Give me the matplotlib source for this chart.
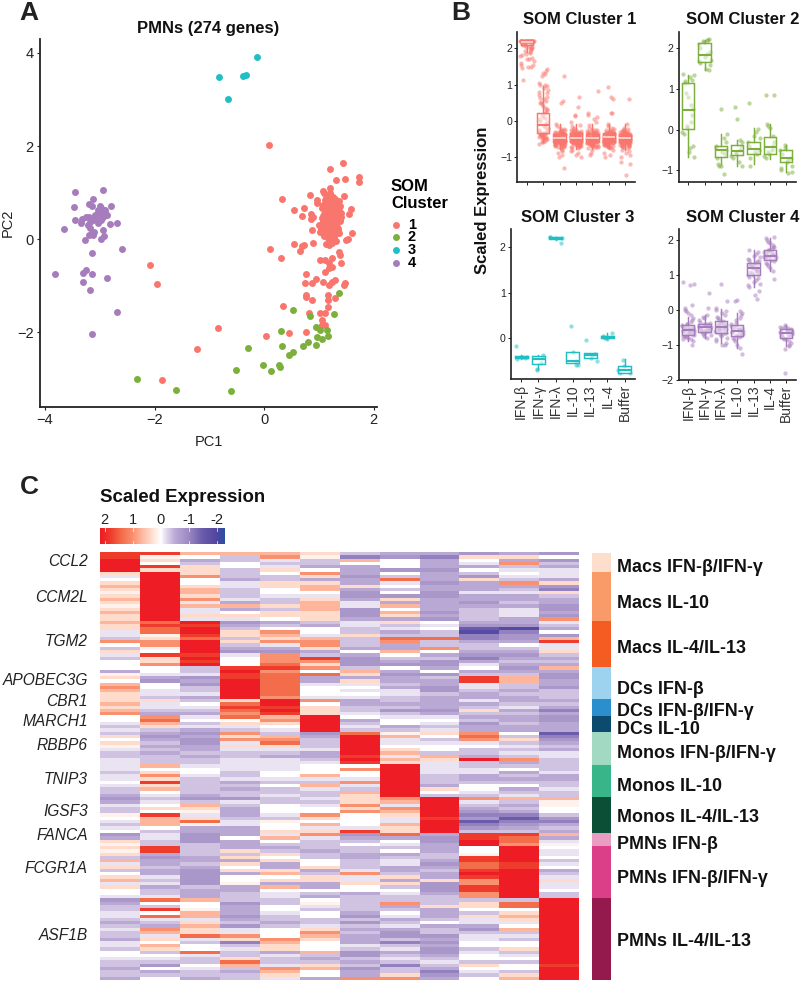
import numpy as np
import matplotlib
matplotlib.use("Agg")
import matplotlib.pyplot as plt
from matplotlib.colors import LinearSegmentedColormap, Normalize

plt.rcParams['font.family'] = ['Liberation Sans', 'DejaVu Sans']

W, H = 800, 982
RED, GREEN, TEAL, PURPLE = '#F8766D', '#7CAF3C', '#21BFC4', '#A67CBC'
INK = '#222222'

# ---------- Panel A data (PC1, PC2) ----------
C1_X = [0.08,1.44,1.20,1.32,1.47,1.73,1.74,0.84,0.33,0.97,0.96,1.07,1.21,1.45,0.72,0.54,0.69,0.86,0.85,1.58,1.54,1.41,1.39,0.90,
        0.87,1.61,1.49,1.53,1.36,0.55,0.72,0.70,0.90,0.66,1.13,1.18,1.24,1.31,1.21,0.10,0.30,1.36,1.39,1.40,1.02,1.11,1.24,1.18,1.24,1.18,1.11,
        0.77,0.94,0.87,0.74,1.08,1.18,1.24,1.29,1.48,1.45,0.77,0.76,0.87,1.17,1.16,1.29,0.34,1.17,0.82,1.02,1.12,1.05,1.05,1.11,0.76,0.46,0.04,-0.84,
        -2.08,-1.95,-1.22,-1.87,
        1.10,1.15,1.20,1.25,1.30,1.12,1.18,1.24,1.30,1.36,1.08,1.14,1.20,1.26,1.32,1.38,1.06,1.12,1.18,1.24,1.30,1.36,1.10,1.16,1.22,1.28,1.34,1.40,
        1.05,1.11,1.17,1.23,1.29,1.35,1.08,1.14,1.20,1.26,1.32,1.38,1.00,1.06,1.12,1.18,1.24,1.30,1.04,1.10,1.16,1.22,1.28,1.34,1.02,1.08,1.14,1.20,1.26,1.32,1.10,1.16,1.22,1.28,1.30,1.18,
        1.13,1.19,1.27,1.33,1.09,1.15,1.21,1.29,1.35,1.07,1.17,1.23,1.31,1.37,1.05,1.13,1.25,1.33,1.11,1.19,1.27,1.35]
C1_Y = [2.03,1.63,1.51,1.28,1.29,1.33,1.23,0.95,0.87,0.84,0.78,1.03,1.09,0.92,0.66,0.62,0.49,0.54,0.44,0.64,0.54,0.55,0.44,0.48,
        0.20,0.12,-0.02,0.00,0.12,-0.10,-0.12,-0.14,-0.08,-0.26,-0.11,-0.12,-0.09,-0.05,0.04,-0.22,-0.41,-0.27,-0.34,-0.51,-0.46,-0.46,-0.41,-0.52,-0.60,-0.62,-0.71,
        -0.75,-0.85,-0.95,-0.95,-0.92,-0.98,-0.93,-0.89,-0.95,-0.99,-1.20,-1.25,-1.31,-1.20,-1.31,-1.26,-1.44,-1.46,-1.59,-1.58,-1.58,-1.75,-1.84,-1.85,-1.99,-2.01,-2.09,-1.91,
        -0.56,-0.97,-2.37,-3.02,
        0.98,0.92,0.99,0.90,0.86,0.84,0.80,0.85,0.78,0.82,0.74,0.70,0.72,0.76,0.69,0.72,0.66,0.60,0.64,0.62,0.58,0.60,0.54,0.52,0.56,0.50,0.54,0.48,
        0.46,0.42,0.48,0.44,0.40,0.46,0.38,0.34,0.40,0.36,0.32,0.38,0.30,0.26,0.32,0.28,0.24,0.30,0.22,0.18,0.24,0.20,0.16,0.22,0.16,0.12,0.14,0.10,0.14,0.18,0.06,0.02,0.08,0.04,0.10,-0.02,
        0.88,0.82,0.76,0.80,0.67,0.69,0.58,0.62,0.57,0.50,0.44,0.37,0.43,0.50,0.28,0.35,0.29,0.26,0.13,0.10,0.20,0.22]
C2_X = [1.37,0.52,0.83,1.28,0.94,1.02,1.15,0.97,1.05,1.16,0.80,0.71,0.94,0.32,-0.29,0.52,0.46,-0.02,0.28,0.29,-0.51,0.12,-2.32,-1.61,-0.60,0.30]
C2_Y = [-1.16,-1.53,-1.65,-1.61,-1.89,-1.96,-1.96,-2.10,-2.14,-2.09,-2.21,-2.29,-2.27,-2.30,-2.34,-2.42,-2.50,-2.70,-2.70,-2.75,-2.81,-2.83,-3.00,-3.24,-3.27,-1.98]
C3_X = [-0.82,-0.38,-0.33,-0.13,-0.66]
C3_Y = [3.48,3.50,3.53,3.91,3.01]
C4_X = [-3.46,-2.94,-3.12,-3.47,-3.20,-3.15,-2.79,-3.00,-2.97,-3.03,-3.45,-3.34,-3.33,-3.25,-3.19,-3.18,-3.12,-3.06,-2.97,-2.90,-2.86,-2.94,-3.00,-2.69,-2.81,-3.65,-3.17,-3.10,-2.94,-3.19,-3.12,-2.92,-3.27,-2.98,-2.60,
        -3.15,-3.25,-3.31,-3.15,-3.81,-2.86,-3.31,-3.18,-2.68,-3.15,-3.08,-3.22,-3.03,-2.90,-3.14]
C4_Y = [1.01,1.05,0.87,0.68,0.75,0.70,0.70,0.70,0.66,0.62,0.40,0.34,0.44,0.48,0.48,0.37,0.41,0.48,0.41,0.55,0.52,0.48,0.55,0.34,0.32,0.21,0.23,0.16,0.20,0.09,0.09,0.06,-0.02,0.01,-0.22,
        -0.31,-0.67,-0.72,-0.76,-0.76,-0.84,-0.93,-1.10,-1.57,-2.05,0.52,0.30,0.34,0.62,0.14]

# ---------- Panel B data ----------
CATS = ['IFN-\u03b2','IFN-\u03b3','IFN-\u03bb','IL-10','IL-13','IL-4','Buffer']
JITTER = [-0.31,0.12,-0.05,0.28,-0.19,0.34,0.03,-0.36,0.2,-0.12,0.08,0.37,-0.26,0.15,-0.02,0.24,-0.33,0.3,-0.09,0.17,-0.23]

BAND_A = [-0.20,-0.26,-0.30,-0.33,-0.35,-0.38,-0.40,-0.42,-0.44,-0.45,-0.47,-0.48,-0.50,-0.50,-0.52,-0.53,-0.55,-0.56,-0.58,-0.60,-0.61,-0.63,-0.65,-0.67,-0.70,-0.73,-0.76,-0.34,-0.41,-0.46,-0.49,-0.54,-0.57,-0.62,-0.28,-0.37,-0.43,-0.51,-0.59,-0.66]
BAND_B = [-0.24,-0.29,-0.32,-0.36,-0.39,-0.43,-0.46,-0.48,-0.51,-0.54,-0.56,-0.59,-0.62,-0.64,-0.68,-0.71,-0.74,-0.31,-0.35,-0.40,-0.44,-0.47,-0.50,-0.53,-0.57,-0.60,-0.64,-0.69,-0.33,-0.38,-0.42,-0.45,-0.49,-0.52,-0.55,-0.58,-0.63,-0.27,-0.72,-0.41,-0.47,-0.53,-0.37,-0.61,-0.44,-0.56,-0.50,-0.65]
S1 = [
 [2.22]*22+[2.18,2.2,2.15,2.12,2.1,2.1,2.05,2.0,2.02,1.95,1.9,1.92,1.85,1.8,1.82,1.75,1.7,1.72,1.65,1.6,1.55,1.55,1.5,1.5,1.45,1.12,2.17,2.14,2.08,2.04,1.98,1.88],
 [1.42,1.38,1.3,1.25,1.32,1.05,1.0,0.95,0.98,0.9,0.85,0.8,0.7,0.65,0.6,0.55,0.5,0.52,0.45,0.4,0.35,0.3,0.25,0.2,0.15,0.1,0.05,0.0,-0.05,-0.1,-0.15,-0.2,-0.25,-0.28,-0.3,-0.33,-0.35,-0.38,-0.4,-0.42,-0.45,-0.48,-0.5,-0.52,-0.55,-0.58,-0.6,-0.65,0.62,0.78,-0.18,-0.36,-0.22,-0.44,-0.31,-0.27,-0.41,-0.46,-0.39,-0.34,-0.49,-0.53,0.08,0.32],
 BAND_A+BAND_B+[1.25,0.5,0.55,-0.1,-0.15,-0.9,-1.0,-0.95,-1.32,-0.85,-0.8],
 BAND_A+BAND_B+[0.65,0.38,0.12,0.15,-0.05,-0.15,-0.12,-0.9,-0.95,-1.0,-0.85,-0.8],
 BAND_A+BAND_B+[0.82,0.22,0.15,0.1,0.05,-0.05,-0.12,-0.95,-0.9,-0.82],
 BAND_A+BAND_B+[0.92,0.65,0.6,0.2,0.2,-0.1,-0.15,-0.9,-1.0,-0.8,-0.95],
 BAND_A+BAND_B+[0.6,-0.1,-1.5,-1.2,-1.15,-1.0,-0.95,-0.9,-0.85,-0.8],
]
S2 = [
 [1.38,1.35,1.3,1.22,1.2,1.15,0.9,0.8,0.6,0.5,0.35,0.2,0.1,0.05,-0.05,-0.1,-0.4,-0.45,-0.55,-0.68],
 [2.22,2.2,2.2,2.18,2.15,2.1,2.0,1.9,1.85,1.8,1.72,1.7,1.65,1.6,1.5,1.47],
 [0.5,-0.1,-0.4,-0.45,-0.5,-0.55,-0.6,-0.7,-0.85,-0.9,-0.9,-1.1,-0.3,-0.2],
 [0.55,0.27,-0.25,-0.3,-0.4,-0.5,-0.55,-0.6,-0.65,-0.7,-0.9,-0.8],
 [0.65,0.03,-0.05,-0.15,-0.2,-0.3,-0.4,-0.5,-0.55,-0.6,-0.7,-0.88],
 [0.85,0.85,0.15,0.1,0.05,-0.15,-0.3,-0.4,-0.5,-0.55,-0.6,-0.65,-0.7],
 [-0.38,-0.45,-0.5,-0.6,-0.7,-0.75,-0.8,-0.9,-0.95,-1.0,-1.05,-1.07],
]
S3 = [
 [-0.17,-0.42,-0.42,-0.44,-0.46],
 [-0.38,-0.45,-0.55,-0.68,-0.7],
 [2.2,2.2,2.21,2.22,2.08],
 [0.26,-0.3,-0.5,-0.6,-0.6],
 [-0.05,-0.35,-0.38,-0.43,-0.5],
 [0.12,0.05,0.03,0.0,-0.02],
 [-0.48,-0.62,-0.7,-0.76,-0.77],
]
S4 = [
 [0.8,0.75,0.72,0.15,0.05,0.0,-0.05,-0.1,-0.15,-0.25,-0.3,-0.35,-0.4,-0.42,-0.45,-0.48,-0.5,-0.52,-0.55,-0.57,-0.6,-0.62,-0.65,-0.67,-0.7,-0.72,-0.75,-0.78,-0.8,-0.85,-0.9,-1.0,-0.58,-0.63,-0.53,-0.46,-0.51,-0.56,-0.61,-0.66,-0.71,-0.74,-0.83],
 [0.47,0.05,-0.15,-0.2,-0.25,-0.3,-0.35,-0.38,-0.42,-0.45,-0.48,-0.5,-0.52,-0.55,-0.58,-0.6,-0.62,-0.65,-0.7,-0.75,-0.8,-0.44,-0.47,-0.53,-0.57,-0.4,-0.46,-0.51,-0.56,-0.61,-0.66,-0.72],
 [0.75,0.25,0.05,0.0,-0.05,-0.1,-0.15,-0.2,-0.25,-0.3,-0.35,-0.4,-0.45,-0.5,-0.52,-0.55,-0.58,-0.6,-0.63,-0.66,-0.7,-0.75,-0.8,-0.85,-0.9,-0.95,-1.0,-1.02,-0.48,-0.42,-0.56,-0.38,-0.46,-0.54,-0.62,-0.33,-0.44,-0.68],
 [0.25,0.28,-0.05,-0.1,-0.15,-0.25,-0.3,-0.38,-0.42,-0.48,-0.52,-0.55,-0.58,-0.6,-0.63,-0.65,-0.68,-0.7,-0.75,-0.8,-0.85,-0.9,-1.0,-1.1,-1.27,-0.62,-0.56,-0.5,-0.72,-0.46,-0.59,-0.66,-0.78],
 [1.7,1.65,1.6,1.55,1.5,1.45,1.42,1.38,1.35,1.3,1.28,1.25,1.22,1.2,1.18,1.15,1.12,1.1,1.05,1.0,0.98,0.95,0.9,0.85,0.8,0.75,0.7,0.65,0.55,0.42,0.3,1.33,1.08,1.22,1.27,1.17,1.03,1.4],
 [2.08,2.05,2.0,1.95,1.9,1.85,1.8,1.78,1.75,1.7,1.68,1.65,1.62,1.6,1.58,1.55,1.52,1.5,1.48,1.45,1.42,1.4,1.35,1.3,1.25,1.2,1.1,0.88,1.56,1.63,1.47,1.72,1.53,1.6],
 [-0.45,-0.48,-0.5,-0.52,-0.55,-0.58,-0.6,-0.62,-0.65,-0.67,-0.7,-0.72,-0.75,-0.78,-0.8,-0.83,-0.85,-0.9,-0.95,-1.0,-1.05,-1.12,-1.8,-0.63,-0.68,-0.57,-0.53,-0.6,-0.66,-0.74],
]
# box stats: lower whisker, q1, median, q3, upper whisker
BOX1 = [[1.9,2.1,2.18,2.24,2.24],[-0.6,-0.33,-0.13,0.22,0.95],[-0.78,-0.6,-0.48,-0.36,-0.1],[-0.78,-0.6,-0.47,-0.35,-0.1],[-0.78,-0.6,-0.47,-0.36,-0.1],[-0.78,-0.58,-0.46,-0.33,-0.1],[-0.8,-0.6,-0.49,-0.37,-0.1]]
BOX2 = [[-0.68,0.03,0.49,1.14,1.35],[1.47,1.66,1.84,2.14,2.2],[-0.85,-0.67,-0.5,-0.4,-0.1],[-0.9,-0.63,-0.53,-0.37,-0.25],[-0.85,-0.6,-0.47,-0.3,0.05],[-0.72,-0.6,-0.42,-0.17,0.15],[-1.05,-0.8,-0.7,-0.5,-0.38]]
BOX3 = [[-0.46,-0.44,-0.42,-0.4,-0.38],[-0.68,-0.58,-0.47,-0.4,-0.38],[2.16,2.17,2.2,2.22,2.23],[-0.55,-0.55,-0.5,-0.3,-0.3],[-0.44,-0.43,-0.38,-0.34,-0.33],[-0.02,0.0,0.03,0.05,0.12],[-0.78,-0.77,-0.7,-0.62,-0.47]]
BOX4 = [[-0.9,-0.73,-0.57,-0.44,-0.2],[-0.82,-0.65,-0.5,-0.4,-0.15],[-0.95,-0.66,-0.5,-0.33,0.03],[-1.08,-0.74,-0.6,-0.45,-0.08],[0.65,0.98,1.2,1.35,1.7],[1.1,1.42,1.55,1.7,2.05],[-1.05,-0.82,-0.67,-0.55,-0.45]]

# ---------- Panel C data ----------
# one string per block of rows, per condition column; letters are expression levels
LEVELS = dict(R=2.17,S=1.8,T=1.4,o=1.0,p=0.7,q=0.35,r=0.12,w=0.0,a=-0.15,b=-0.35,c=-0.55,d=-0.8,e=-1.1,f=-1.5,g=-1.9)
BLOCKS = [6,15,14,10,5,5,10,10,11,4,16,25]
COL_0 = "SSRRRR qawqpqrqpqrqpqq pqqaabowbqabww wcrqwpopqq qpqpo wwaba bqwqrabbaa aabaawabbc dcabbrwabaw dcqr qrqbpaqbwqpaqwwa dcbbaabcbabbcaabwwabbcbbc".split()
COL_1 = "SrqwSq RRRRRRRRRRRRRRR TSTTrqoorwSqqo wwacdwwaab qaabc oTpqb cdcbcbcbbb pwqoqSqpwa bawqwSpppwb aabb SScdccbccabacbba TwbSwTabcopaqwpqbwabdwcbw".split()
COL_2 = "pwcbqq qowwqppqoapaaqa RSRRSTRRRRSRSR bbadcdbbac bwabc awbac dcddccbcbb awwabbbbbc dbpqraqTrcc dddb bbbccbcdddddbccc pwwrppaqpqqTabwwTabbwabbc".split()
COL_3 = "pbbwwb bbcaabbbacpcwqa dcbqqbqbcdawww SRSSRRRRRR qTSTo Twqab oqoaqabbaa aabbacbcbb dabcccbaacc cwcc cqbqcqwqcwwrccbb bdcccdcbdaaoqebabbqTpbcbb".split()
COL_4 = "poabaq wbbqqwwabbqbqqw cbwopqoacdoooT SoTTTTTTTo RRSRS poqwa bpoTqabcaa aawwabwbba bbwwwabrwwq apwb cbqwqccqpwqcpwaa bbwwabbcbwwwopqqcabbaopqa".split()
COL_5 = "qrbbcw oqcqppwaqpppqqq bcwwapooqcbSoq owTccawwwa owqqq RRRRR dcbbbaccba wwwpabpabb abawwoqwpaq oabb bcbbwwqcbqqccwbc wrabwwbbaqopqwwwpbcbqpwwc".split()
COL_6 = "bepwcc cdccqcddcaadddc aabbqbbbcwcddd bpqcqawawa ccbba wcbab TRRRRRRSRS wowwaoabpq qqoqowwwwaS dcbw bbccbbbaoaaqwwcb bbbbcdbdbcbcccabddbcbdcco".split()
COL_7 = "cdwwwd wbTawbwdqcpwpqc qbacbToccpwbcd wcdccbcaab bcbdb awwcb rpaawqpapq RRRRRRRRRR opaopqaapqq Tcwa bwcbaaccbqcqbwab bocbwacbacddbebacbabebbqo".split()
COL_8 = "cecccd cccdccddccccdcd wawbbTbbowcbdd cwdbccddbc cccdc awaba qwbawwbpqa aaabbbcqwb RRRRRRSRRRR cddc ccbbcdcbccqdddcb bbqcccbwcbbdcdcddcbabcedc".split()
COL_9 = "dqwacw bdqcccaccdcbbbb cdfgeecbbcdeca wcbSSaabcc acbqb cbdcc oToawbbcRb baaccbwwab oabcdedfedb SSRR wwrSSTTSRSooSSoo bqqwbqaacdbaawwbawwbqwabw".split()
COL_10 = "cqcoba wabocbaccbcaaac cdgeddcwbcdcbc dcbppbbcbc cbacb ccbcc wbqbababoc bwcbcbwcba pbcbcefedcb STTo RRRRRSSRRRRRRRRR bTTwqpqawpbabwwqbawbwwbqp".split()
COL_11 = "dwdbca aacqdeqbccddcdo abcwdpSaaqbcbc pcddccdbbb cbcec ddccc fedcbcaabb bbaccbbabb prrwwbdecbc pcar waawbawcbaqaawbb RRRRRRRRRRRRRRRRRRRRSRRRR".split()
COLUMNS = [COL_0,COL_1,COL_2,COL_3,COL_4,COL_5,COL_6,COL_7,COL_8,COL_9,COL_10,COL_11]
SIDE_COLORS = ['#FDDDCB','#F99B69','#F45C21','#9ED3F0','#2B8FCE','#0C4A70','#A1D9C2','#39B58A','#0C4F37','#EA9DC3','#DA3F87','#941A4D']
SIDE_LABELS = ['Macs IFN-\u03b2/IFN-\u03b3','Macs IL-10','Macs IL-4/IL-13','DCs IFN-\u03b2','DCs IFN-\u03b2/IFN-\u03b3','DCs IL-10',
               'Monos IFN-\u03b2/IFN-\u03b3','Monos IL-10','Monos IL-4/IL-13','PMNs IFN-\u03b2','PMNs IFN-\u03b2/IFN-\u03b3','PMNs IL-4/IL-13']
SIDE_Y = [567.3,603.3,648.3,689,711,730,754,786.7,818,844.3,878.3,941.7]
GENES = ['CCL2','CCM2L','TGM2','APOBEC3G','CBR1','MARCH1','RBBP6','TNIP3','IGSF3','FANCA','FCGR1A','ASF1B']
GENE_Y = [562,597.7,641.7,680.7,702,721.7,745,779,811.7,836,868.7,935.7]
CBAR_TICKS = [2,1,0,-1,-2]
CBAR_LABELS = ['2','1','0','-1','-2']

# ---------- helpers ----------
fig = plt.figure(figsize=(W/100, H/100), dpi=100, facecolor='white')

def axpx(l, t, r, b):
    return fig.add_axes([l/W, 1-b/H, (r-l)/W, (b-t)/H])

def txt(x, y, s, **kw):
    kw.setdefault('va', 'center')
    kw.setdefault('color', 'black')
    return fig.text(x/W, 1-y/H, s, **kw)

def classic(ax, lw=1.3):
    for s in ('top', 'right'):
        ax.spines[s].set_visible(False)
    for s in ('left', 'bottom'):
        ax.spines[s].set_linewidth(lw)
        ax.spines[s].set_color(INK)

# ---------- Panel A ----------
ax = axpx(40, 39, 377, 407)
classic(ax, 1.3)
ax.set_xlim(-4.09, 2.06)
ax.set_ylim(-3.61, 4.30)
for xs, ys, c in [(C1_X, C1_Y, RED), (C2_X, C2_Y, GREEN), (C3_X, C3_Y, TEAL), (C4_X, C4_Y, PURPLE)]:
    ax.scatter(xs, ys, s=25, c=c, linewidths=0, clip_on=False)
ax.set_xticks([-4, -2, 0, 2])
ax.set_yticks([-2, 0, 2, 4])
ax.tick_params(labelsize=10.5, length=2.5, width=0.8, color=INK, labelcolor=INK, pad=2)
ax.set_xlabel('PC1', fontsize=10.5, color=INK, labelpad=5.5)
ax.set_ylabel('PC2', fontsize=10.5, color=INK, labelpad=2)
txt(208, 29, 'PMNs (274 genes)', fontsize=12, fontweight='bold', ha='center', color='#111111')
txt(391, 195, 'SOM\nCluster', fontsize=12, fontweight='bold', ha='left', linespacing=1.2)
leg = axpx(385, 215, 440, 272)
leg.set_xlim(385, 440); leg.set_ylim(272, 215); leg.axis('off')
LEG_NAMES = ['1', '2', '3', '4']
for nm, yy, c in zip(LEG_NAMES, [224.7, 237.3, 250.3, 263.3], [RED, GREEN, TEAL, PURPLE]):
    leg.scatter([395.7], [yy], s=25, c=c, linewidths=0)
    leg.text(408, yy, nm, fontsize=10.5, fontweight='bold', va='center', ha='left')

# ---------- Panel B ----------
def panel(rect, vals, box, color, ylim, yticks, title, title_x, title_y, labels, fills, spreads, pale_median=False):
    ax = axpx(*rect)
    classic(ax, 1.2)
    for i, v in enumerate(vals):
        xs = [i + spreads[i]*JITTER[(k*5 + i*3) % len(JITTER)] for k in range(len(v))]
        ax.scatter(xs, v, s=9.5, c=color, alpha=0.5, linewidths=0, zorder=2, clip_on=False)
    stats = [dict(whislo=b[0], q1=b[1], med=b[2], q3=b[3], whishi=b[4], fliers=[]) for b in box]
    res = ax.bxp(stats, positions=range(len(CATS)), widths=0.75, showfliers=False, showcaps=False, patch_artist=True,
           boxprops=dict(facecolor=(1, 1, 1, 0.45), edgecolor=color, linewidth=1.05),
           medianprops=dict(color=color, linewidth=1.5),
           whiskerprops=dict(color=color, linewidth=1.05), zorder=3)
    for patch, f in zip(res['boxes'], fills):
        patch.set_facecolor((1, 1, 1, f))
    if pale_median:
        for i, m in enumerate(res['medians']):
            if i != 1:
                m.set_color('#FBE4E0')
                m.set_linewidth(1.1)
    ax.set_xlim(-0.6, 6.6)
    ax.set_ylim(*ylim)
    ax.set_yticks(yticks)
    ax.set_xticks(range(len(CATS)))
    if labels:
        ax.set_xticklabels(CATS, rotation=90, fontsize=10, color='#333333')
    else:
        ax.set_xticklabels([])
    ax.tick_params(axis='y', labelsize=7.6, length=2, width=0.7, pad=1.5, labelcolor=INK, color=INK)
    ax.tick_params(axis='x', length=2, width=0.7, pad=1.5, color=INK)
    txt(title_x, title_y, title, fontsize=12, fontweight='bold', ha='center', color='#111111')
    return ax

FILL_1 = [0, 0.5, 0, 0, 0, 0, 0]
FILL_REST = [0.45]*7
SPREAD_1 = [1.15, 0.75, 0.85, 0.85, 0.85, 0.85, 0.85]
SPREAD_REST = [1.0]*7
panel((517, 31.7, 635, 181.7), S1, BOX1, RED, (-1.69, 2.465), [-1, 0, 1, 2], 'SOM Cluster 1', 580, 20, False, FILL_1, SPREAD_1, True)
panel((678.5, 31.7, 796, 182), S2, BOX2, GREEN, (-1.285, 2.41), [-1, 0, 1, 2], 'SOM Cluster 2', 743, 20, False, FILL_REST, SPREAD_REST)
panel((510.7, 229.3, 635, 379.3), S3, BOX3, TEAL, (-0.908, 2.39), [0, 1, 2], 'SOM Cluster 3', 578, 218, True, FILL_REST, SPREAD_REST)
panel((678.5, 229.3, 796, 379.7), S4, BOX4, PURPLE, (-2.0, 2.3), [-2, -1, 0, 1, 2], 'SOM Cluster 4', 743, 218, True, FILL_REST, SPREAD_REST)
txt(482.5, 200, 'Scaled Expression', fontsize=12, fontweight='bold', rotation=90, ha='center', color='#111111')

# ---------- Panel C ----------
def fit(seg, n):
    return (seg + seg[-1]*n)[:n]

matrix = np.array([[LEVELS[ch] for seg, n in zip(col, BLOCKS) for ch in fit(seg, n)] for col in COLUMNS]).T

ANCHORS = [(-2.3,'#2A4FA5'),(-2.0,'#5247A0'),(-1.5,'#6A5CAA'),(-1.0,'#9C8AC3'),(-0.5,'#BCABD6'),(-0.2,'#E3DBEE'),(0.0,'#FFFFFF'),
           (0.3,'#FEE0D2'),(0.7,'#FDB59C'),(1.0,'#F9906F'),(1.4,'#F46D4B'),(1.8,'#EF3B2C'),(2.17,'#EE1C25')]
VMIN, VMAX = -2.3, 2.17
cmap = LinearSegmentedColormap.from_list('rdpu', [((v-VMIN)/(VMAX-VMIN), c) for v, c in ANCHORS], N=512)
norm = Normalize(VMIN, VMAX)

ax = axpx(100.5, 552, 579, 980)
ax.pcolormesh(matrix, cmap=cmap, norm=norm, linewidth=0, rasterized=True)
ax.invert_yaxis()
ax.axis('off')

sd = axpx(592, 552.5, 610.7, 980)
tops = np.cumsum([0] + BLOCKS[:-1])
sd.bar([0]*len(BLOCKS), BLOCKS, bottom=tops, width=1, color=SIDE_COLORS, linewidth=0)
sd.set_xlim(-0.5, 0.5)
sd.set_ylim(sum(BLOCKS), 0)
sd.axis('off')

for s, y in zip(SIDE_LABELS, SIDE_Y):
    txt(616.7, y, s, fontsize=12.9, fontweight='bold', ha='left', color='#111111')
for s, y in zip(GENES, GENE_Y):
    txt(88, y, s, fontsize=11.2, fontstyle='italic', ha='right', color=INK)

cb = axpx(100, 528, 225, 544.5)
grad = np.linspace(VMAX, VMIN, 256).reshape(1, -1)
cb.imshow(grad, aspect='auto', cmap=cmap, norm=norm, extent=[VMAX, VMIN, 0, 1])
cb.set_xlim(VMAX, VMIN)
for t in CBAR_TICKS:
    cb.plot([t, t], [0, 0.2], color='white', lw=0.6, alpha=0.8)
    cb.plot([t, t], [0.8, 1], color='white', lw=0.6, alpha=0.8)
cb.set_ylim(0, 1)
cb.set_yticks([])
cb.xaxis.set_ticks_position('top')
cb.set_xticks(CBAR_TICKS)
cb.set_xticklabels(CBAR_LABELS, fontsize=10.5, color=INK)
cb.tick_params(axis='x', length=0, pad=0.5)
for s in cb.spines.values():
    s.set_visible(False)
txt(100.5, 498, 'Scaled Expression', fontsize=13.4, fontweight='bold', ha='left', color='#111111')

# ---------- Panel letters ----------
txt(19.5, 20, 'A', fontsize=19, fontweight='bold', ha='left', va='baseline', color=INK)
txt(451, 20, 'B', fontsize=19, fontweight='bold', ha='left', va='baseline', color=INK)
txt(19.5, 494, 'C', fontsize=19, fontweight='bold', ha='left', va='baseline', color=INK)

fig.savefig('out.png', dpi=100, facecolor='white')
